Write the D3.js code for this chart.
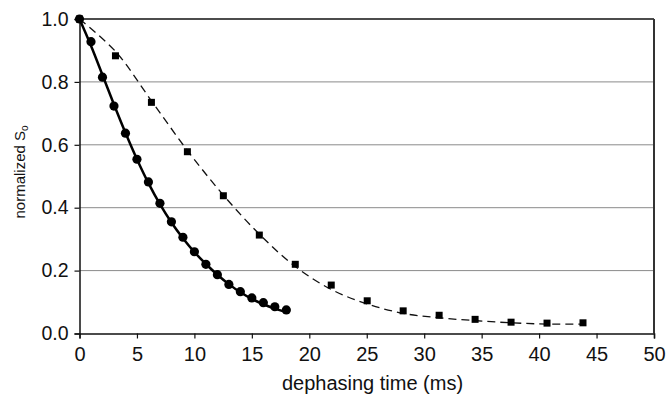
<!DOCTYPE html>
<html>
<head>
<meta charset="utf-8">
<script src="https://cdn.jsdelivr.net/npm/d3@7"></script>
<style>
  html, body { margin: 0; padding: 0; background: #fff; }
  svg { display: block; }
  text { font-family: "Liberation Sans", Arial, sans-serif; fill: #111; }
</style>
</head>
<body>
<svg id="chart" width="669" height="397"></svg>
<script>
// Fast-decaying series (circles) and its fitted curve
const circleTimes = [0,1,2,3,4,5,6,7,8,9,10,11,12,13,14,15,16,17,18];
const circleValues = [1.0,0.928,0.815,0.723,0.637,0.554,0.482,0.414,0.355,0.306,0.260,0.220,0.187,0.156,0.133,0.113,0.098,0.085,0.075];
const circleFit = [1.0,0.915,0.822,0.728,0.638,0.554,0.478,0.411,0.353,0.303,0.259,0.221,0.187,0.157,0.131,0.110,0.093,0.079,0.068];

// Slow-decaying series (squares) and its fitted curve
const squareTimes = [0,3.13,6.26,9.39,12.52,15.65,18.78,21.91,25.04,28.17,31.3,34.43,37.56,40.69,43.82];
const squareValues = [1.0,0.883,0.735,0.578,0.438,0.313,0.220,0.154,0.104,0.072,0.058,0.045,0.036,0.033,0.034];
const squareFit = [1.0,0.897,0.740,0.582,0.440,0.316,0.213,0.140,0.094,0.064,0.050,0.041,0.034,0.030,0.030];

// Axis ticks
const xTicks = [0,5,10,15,20,25,30,35,40,45,50];
const yTicks = [0.0,0.2,0.4,0.6,0.8,1.0];

(function draw() {
  const svg = d3.select("#chart");
  const mLeft = 79.5, mRight = 654, mTop = 19, mBottom = 333.5;

  const x = d3.scaleLinear().domain([0, 50]).range([mLeft, mRight]);
  const y = d3.scaleLinear().domain([0, 1]).range([mBottom, mTop]);

  // Horizontal gridlines
  svg.append("g").selectAll("line")
    .data(yTicks.filter(d => d > 0 && d < 1))
    .join("line")
    .attr("x1", mLeft).attr("x2", mRight)
    .attr("y1", d => y(d)).attr("y2", d => y(d))
    .attr("stroke", "#8a8a8a").attr("stroke-width", 1);

  // Plot frame: top and right edges
  svg.append("line").attr("x1", mLeft).attr("x2", mRight).attr("y1", mTop).attr("y2", mTop)
    .attr("stroke", "#111").attr("stroke-width", 1.5);
  svg.append("line").attr("x1", mRight).attr("x2", mRight).attr("y1", mTop).attr("y2", mBottom)
    .attr("stroke", "#333").attr("stroke-width", 2);

  // Axes
  const xAxis = svg.append("g").attr("transform", `translate(0,${mBottom})`)
    .call(d3.axisBottom(x).tickValues(xTicks).tickSize(5).tickPadding(8).tickFormat(d3.format("d")));
  const yAxis = svg.append("g").attr("transform", `translate(${mLeft},0)`)
    .call(d3.axisLeft(y).tickValues(yTicks).tickSize(5).tickPadding(6).tickFormat(d3.format(".1f")));
  [xAxis, yAxis].forEach(a => {
    a.select(".domain").attr("stroke", "#111").attr("stroke-width", 1.5);
    a.selectAll(".tick line").attr("stroke", "#111").attr("stroke-width", 1.2);
    a.selectAll(".tick text").attr("fill", "#111")
      .attr("font-family", "Liberation Sans, Arial, sans-serif");
  });
  xAxis.selectAll(".tick text").attr("font-size", 20);
  yAxis.selectAll(".tick text").attr("font-size", 19.5);

  // Fitted curves
  const line = d3.line().x(d => x(d[0])).y(d => y(d[1])).curve(d3.curveCatmullRom.alpha(0.5));
  svg.append("path")
    .datum(squareTimes.map((t, i) => [t, squareFit[i]]))
    .attr("d", line).attr("fill", "none")
    .attr("stroke", "#111").attr("stroke-width", 1.3).attr("stroke-dasharray", "8,5");
  svg.append("path")
    .datum(circleTimes.map((t, i) => [t, circleFit[i]]))
    .attr("d", line).attr("fill", "none")
    .attr("stroke", "#000").attr("stroke-width", 2.5);

  // Square markers
  svg.append("g").selectAll("rect")
    .data(squareTimes.map((t, i) => [t, squareValues[i]]))
    .join("rect")
    .attr("x", d => x(d[0]) - 3.5).attr("y", d => y(d[1]) - 3.5)
    .attr("width", 7).attr("height", 7).attr("fill", "#000");

  // Circle markers
  svg.append("g").selectAll("circle")
    .data(circleTimes.map((t, i) => [t, circleValues[i]]))
    .join("circle")
    .attr("cx", d => x(d[0])).attr("cy", d => y(d[1]))
    .attr("r", 4.6).attr("fill", "#000");

  // Axis titles
  svg.append("text")
    .attr("x", 372.5).attr("y", 390)
    .attr("text-anchor", "middle").attr("font-size", 20)
    .text("dephasing time (ms)");

  const yTitle = svg.append("text")
    .attr("transform", "translate(24.5,172) rotate(-90)")
    .attr("text-anchor", "middle").attr("font-size", 15);
  yTitle.append("tspan").text("normalized S");
  yTitle.append("tspan").attr("font-size", 10).attr("dy", 3).text("o");
})();
</script>
</body>
</html>
